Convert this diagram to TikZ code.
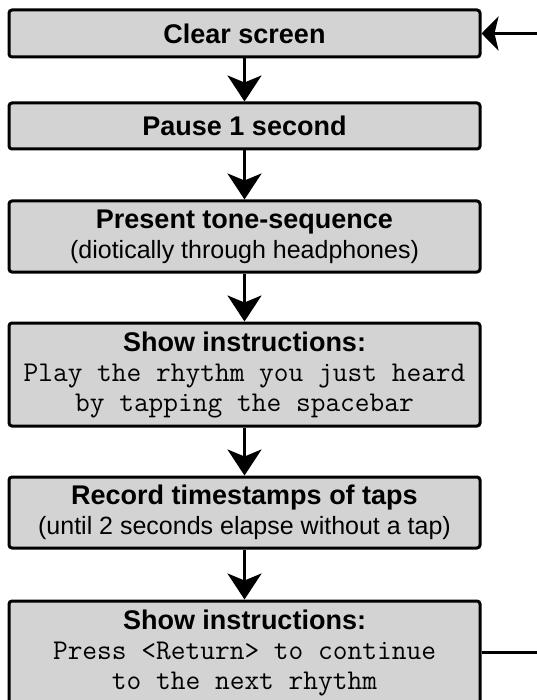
\documentclass[tikz,border=0pt]{standalone}
\usepackage{fontspec}
\setmainfont{Liberation Sans}
\usetikzlibrary{arrows.meta}
\definecolor{boxgray}{RGB}{211,211,211}
\newcommand\steptitle[1]{{\fontsize{27}{30}\selectfont\bfseries #1}}
\newcommand\stepmono[1]{{\fontsize{28.6}{30}\selectfont\ttfamily #1}}
\begin{document}
\begin{tikzpicture}[x=1pt,y=-1pt,
  stepbox/.style={draw=black, line width=3pt, fill=boxgray, rounded corners=3pt,
    minimum width=471pt, inner sep=0pt, align=center,
    font=\fontsize{25}{30}\selectfont},
  flow/.style={line width=3pt, -{Stealth[length=26pt,width=34pt,inset=7pt]}},
  loopflow/.style={line width=3pt, -{Stealth[length=17pt,width=34pt,inset=4pt]}},
]
\useasboundingbox (0,0) rectangle (537,700);
\clip (0,0) rectangle (537,700);

\node[stepbox, minimum height=47pt] (b1) at (244.5,33.5) {\steptitle{Clear screen}};
\node[stepbox, minimum height=46pt] (b2) at (244.5,126) {\steptitle{Pause 1 second}};
\node[stepbox, minimum height=71pt] (b3) at (244.5,236.5)
  {\steptitle{Present tone-sequence}\\(diotically through headphones)};
\node[stepbox, minimum height=103pt] (b4) at (244.5,374.5)
  {\steptitle{Show instructions:}\\\stepmono{Play the rhythm you just heard}\\\stepmono{by tapping the spacebar}};
\node[stepbox, minimum height=71pt] (b5) at (244.5,512.5)
  {\steptitle{Record timestamps of taps}\\(until 2 seconds elapse without a tap)};
\node[stepbox, minimum height=103pt] (b6) at (244.5,652.5)
  {\steptitle{Show instructions:}\\\stepmono{Press <Return> to continue}\\\stepmono{to the next rhythm}};

\draw[flow] (b1) -- (b2);
\draw[flow] (b2) -- (b3);
\draw[flow] (b3) -- (b4);
\draw[flow] (b4) -- (b5);
\draw[flow] (b5) -- (b6);
\draw[loopflow] (b6.east) -- ++(90,0) |- (b1.east);
\end{tikzpicture}
\end{document}
